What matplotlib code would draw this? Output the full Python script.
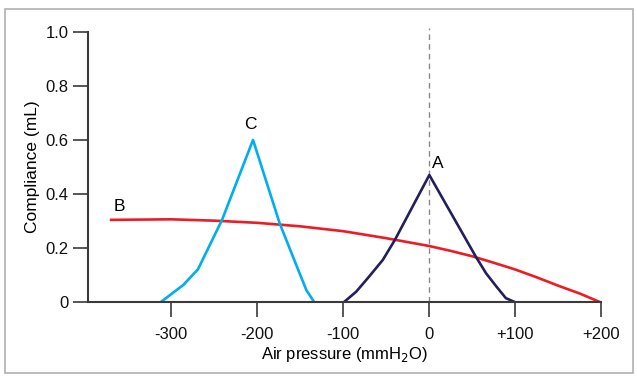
import matplotlib
matplotlib.use("Agg")
import matplotlib.pyplot as plt
from matplotlib.patches import Rectangle

# tympanogram curves, values (x: mmH2O, y: mL)
a_x = [-99, -85, -70, -54, -40, 0, 54, 66, 78, 89, 99]
a_y = [0.0, 0.038, 0.094, 0.156, 0.23, 0.47, 0.168, 0.106, 0.057, 0.014, 0.0]

b_x = [-370, -300, -250, -200, -150, -100, -50, 0, 25, 50, 75, 100, 125, 150, 175, 198]
b_y = [0.304, 0.306, 0.301, 0.293, 0.28, 0.262, 0.236, 0.207, 0.189, 0.169, 0.145,
       0.12, 0.091, 0.06, 0.031, 0.0]

c_x = [-312, -286, -269, -241, -205, -174, -154, -143, -134]
c_y = [0.0, 0.063, 0.121, 0.304, 0.60, 0.291, 0.131, 0.044, 0.0]

x_ticks = [-300, -200, -100, 0, 100, 200]
x_labels = ["-300", "-200", "-100", "0", "+100", "+200"]
y_ticks = [0, 0.2, 0.4, 0.6, 0.8, 1.0]
y_labels = ["0", "0.2", "0.4", "0.6", "0.8", "1.0"]

plt.rcParams["font.family"] = ["Liberation Sans", "DejaVu Sans"]
axis_col = "#3a3a3a"

fig = plt.figure(figsize=(6.37, 3.76), dpi=100)
fig.patches.append(Rectangle((0.0078, 0.008), 0.986, 0.968, transform=fig.transFigure,
                             fill=False, edgecolor="#b0b0b0", linewidth=1.2))
ax = fig.add_axes([0.138, 0.197, 0.806, 0.718])

ax.plot(b_x, b_y, color="#ed1c24", lw=1.9)
ax.plot(c_x, c_y, color="#00aeef", lw=1.9)
ax.plot(a_x, a_y, color="#231f5c", lw=1.9)
ax.plot([0, 0], [0, 1.015], color="#8a8a8a", lw=1.0, ls=(0, (4, 3)), clip_on=False, zorder=0)

ax.text(-208, 0.63, "C", ha="center", va="bottom", fontsize=12.5)
ax.text(3, 0.485, "A", ha="left", va="bottom", fontsize=12.5)
ax.text(-360, 0.325, "B", ha="center", va="bottom", fontsize=12.5)

ax.set_xlim(-397, 200)
ax.set_ylim(0, 1.0)
ax.set_xticks(x_ticks)
ax.set_xticklabels(x_labels)
ax.set_yticks(y_ticks)
ax.set_yticklabels(y_labels)

for s in ["top", "right"]:
    ax.spines[s].set_visible(False)
for s in ["left", "bottom"]:
    ax.spines[s].set_color(axis_col)
    ax.spines[s].set_linewidth(1.5)
ax.tick_params(axis="both", colors=axis_col, labelcolor="#111111", labelsize=12,
               width=1.2, direction="out")
ax.tick_params(axis="x", length=11, pad=7)
ax.tick_params(axis="y", length=11, pad=3)

ax.set_xlabel("Air pressure (mmH$_2$O)", fontsize=12, labelpad=2)
ax.set_ylabel("Compliance (mL)", fontsize=12.5, labelpad=4)

fig.savefig("out.png", dpi=100)
